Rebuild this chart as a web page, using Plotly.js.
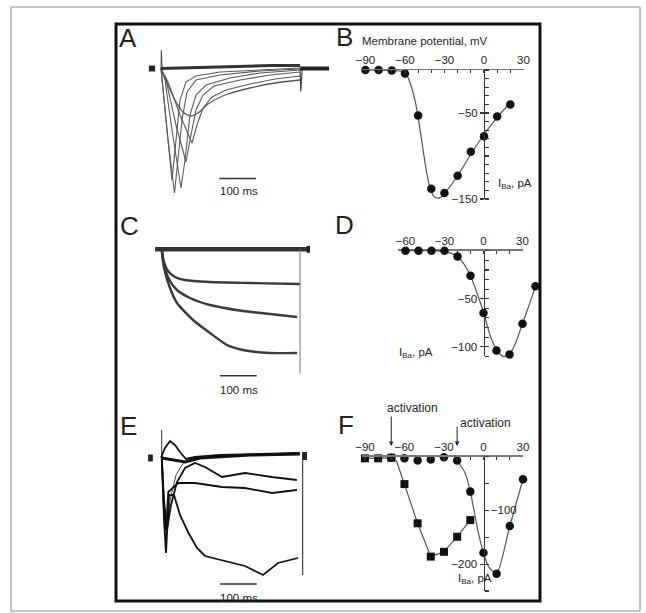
<!DOCTYPE html>
<html>
<head>
<meta charset="utf-8">
<script src="https://cdn.plot.ly/plotly-3.0.1.min.js"></script>
<style>html,body{margin:0;padding:0;background:#fff;}#chart{width:646px;height:613px;}</style>
</head>
<body>
<div id="chart"></div>
<script>
// ---------------- DATA ----------------
// Panel A: Ba2+ current traces (time in ms from pulse onset, current in arbitrary units)
const A_pre_t = [-33, -16];            const A_pre_i = [0, 0];
const A_cap_t = [0, 1, 3];             const A_cap_i = [0, 18, 0];
const A_base_t = [0, 100, 200, 300, 379]; const A_base_i = [0, 1, 2, 3, 3];
const A_f1_t = [0, 13.6, 30, 40.9, 51.8, 68.1, 95.4, 160.8, 269.8, 378.8];
const A_f1_i = [0, -51.5, -111.5, -71.5, -31.5, -13.5, -7.5, -3.5, -1.5, 0.5];
const A_f2_t = [0, 19.1, 36.8, 46.3, 57.2, 70.9, 95.4, 160.8, 269.8, 378.8];
const A_f2_i = [0, -71.5, -124.5, -91.5, -51.5, -23.5, -11.5, -6.5, -2.5, -0.5];
const A_f3_t = [0, 10.9, 30, 54.5, 65.4, 79, 95.4, 122.6, 188, 269.8, 378.8];
const A_f3_i = [0, -11.5, -61.5, -119.5, -91.5, -46.5, -26.5, -16.5, -9.5, -4.5, -1.5];
const A_f4_t = [0, 13.6, 40.9, 68.1, 79, 95.4, 114.5, 144.4, 215.3, 297, 378.8];
const A_f4_i = [0, -11.5, -56.5, -93.5, -71.5, -41.5, -26.5, -17.5, -11.5, -6.5, -3.5];
const A_f5_t = [0, 19.1, 51.8, 84.5, 98.1, 114.5, 139, 177.1, 242.5, 310.7, 378.8];
const A_f5_i = [0, -13.5, -46.5, -74.5, -56.5, -39.5, -28.5, -21.5, -15.5, -10.5, -7.5];
const A_s_t = [0, 19.1, 40.9, 62.7, 81.8, 100.8, 128.1, 174.4, 242.5, 310.7, 378.8];
const A_s_i = [0, -16.5, -33.5, -44.5, -47.5, -44.5, -35.5, -26.5, -19.5, -14.5, -11.5];
const A_tail_t = [378.8, 381, 385];    const A_tail_i = [0, -23, 0];
const A_post_t = [379, 458];           const A_post_i = [0, 0];

// Panel B: I-V relation
const B_V = [-90, -80, -70, -60, -50, -40, -30, -20, -10, 0, 10, 20];
const B_I = [0, 0, -0.5, -4, -53, -138, -143, -123, -95, -77, -54, -40];
const B_fitV = [-90, -70, -62, -58, -55, -52, -50, -47, -44, -41, -38, -35, -32, -28, -20, -10, 0, 10, 20];
const B_fitI = [0, -0.5, -2, -8, -20, -38, -55, -85, -115, -137, -147, -149, -147, -140, -123, -98, -75, -55, -38];

// Panel C: traces
const C_top_t = [-18, 404];            const C_top_i = [0, 0];
const C_endblob_t = [395, 404];        const C_endblob_i = [0, 0];
const C_t2_t = [0, 6.3, 17.2, 36.2, 63.5, 131.6, 240.6, 376.9];
const C_t2_i = [0, -12.7, -21.7, -27.7, -30.7, -32.7, -33.7, -34.7];
const C_t3_t = [0, 6.3, 22.6, 41.7, 77.1, 131.6, 221.5, 295.1, 368.9];
const C_t3_i = [0, -15.7, -31.7, -40.7, -48.7, -55.7, -61.7, -64.7, -67.7];
const C_t4_t = [0, 6.3, 22.6, 41.7, 85.3, 131.6, 177.9, 221.5, 295.1, 368.9];
const C_t4_i = [0, -18.7, -38.7, -53.7, -70.7, -83.7, -95.7, -100.7, -103.7, -103.7];
const C_end_t = [377, 377];            const C_end_i = [0, -124];

// Panel D: I-V relation
const D_V = [-60, -50, -40, -30, -20, -10, 0, 10, 20, 30, 40];
const D_I = [0, 0, 0, 0, -6, -26, -65, -104, -108, -76, -37];
const D_fitV = [-60, -40, -30, -25, -20, -15, -10, -5, 0, 5, 10, 15, 20, 25, 30, 35, 40];
const D_fitI = [0, 0, -1, -2.5, -6, -14, -26, -44, -64, -88, -103, -110, -108, -95, -76, -57, -37];

// Panel E: traces
const E_pre_t = [-37, -24];            const E_pre_i = [-2, -2];
const E_cap_t = [0, 0];                const E_cap_i = [0, 26];
const E_0_t = [0, 36, 64, 104, 241, 377];  const E_0_i = [-2, -4, -6, -2, 1, 2];
const E_1_t = [0, 9, 22.6, 36.2, 49.9, 66.2, 90.7, 158.9, 267.9, 376.9];
const E_1_i = [0, 8, 15, 11, 4, -3, -1, 1, 2, 3];
const E_2_t = [0, 6.3, 14.4, 25.3, 41.7, 63.5, 90.7, 117.9, 164.3, 226.9, 300.5, 368.6];
const E_2_i = [0, -44, -74, -49, -26, -12, -7, -11, -21, -17, -21, -24];
const E_3_t = [0, 6.3, 11.7, 18, 45.2, 90.7, 164.3, 226.9, 300.5, 368.6];
const E_3_i = [0, -54, -74, -36, -27, -27, -31, -32, -37, -34];
const E_4_t = [0, 6.3, 11.7, 19.9, 33.5, 49.9, 71.7, 96.2, 118, 158.9, 227, 276.1, 317, 371.5];
const E_4_i = [0, -64, -97, -39, -39, -59, -76, -92, -100, -104, -110, -119, -107, -102];
const E_5_t = [0, 6.3, 11.7, 22.6, 39, 60.8, 90.7, 186, 376.9];
const E_5_i = [0, -64, -84, -44, -19, -6, -1, 1, 3];
const E_end_t = [384, 384];            const E_end_i = [4, -119];
const E_post_t = [384, 396];           const E_post_i = [0, 0];

// Panel F: I-V relations (squares and circles)
const F_sqV = [-90, -80, -70, -60, -50, -40, -30, -20, -10];
const F_sqI = [-3, -3, -2, -51, -124, -186, -177, -149, -118];
const F_sqFitV = [-90, -70, -66, -60, -50, -40, -30, -20, -10];
const F_sqFitI = [-3, -2, -8, -51, -124, -186, -177, -149, -118];
const F_ciV = [-70, -60, -50, -40, -30, -20, -10, 0, 10, 20, 30];
const F_ciI = [-2, -3, -7, -5, -1, -7, -65, -179, -218, -129, -42];
const F_ciFitV = [-20, -14, -10, -4, 0, 4, 10, 20, 30];
const F_ciFitI = [-7, -30, -65, -140, -179, -205, -218, -129, -42];
const F_arrowV = [-70, -20];

// Tick labels
const xTicksB = [-90, -60, -30, 0, 30];
const yTicksB = [-50, -150];
const xTicksD = [-60, -30, 0, 30];
const yTicksD = [-50, -100];
const xTicksF = [-90, -60, -30, 0, 30];
const yTicksF_left = [-200];
const yTicksF_right = [-100];
const scaleBarMs = 100;

// ---------------- LAYOUT HELPERS ----------------
const W = 646, H = 613;
const px = v => v / W;
const py = v => 1 - v / H;
const FONT = 'Liberation Sans, Arial, sans-serif';
const TXT = '#222';

// panel F x-axis geometry (pixels) used to place the arrows through the same scale
const F_X0 = 362.3, F_X1 = 523, F_R = [-92, 30.01];
const fPix = v => F_X0 + (v - F_R[0]) * (F_X1 - F_X0) / (F_R[1] - F_R[0]);

function line(x, y, xa, ya, color, width, shape) {
  return {type: 'scatter', mode: 'lines', x: x, y: y, xaxis: xa, yaxis: ya,
    line: {color: color, width: width, shape: shape || 'linear', smoothing: 0.6},
    hoverinfo: 'skip', showlegend: false};
}
function pts(x, y, xa, ya, symbol) {
  return {type: 'scatter', mode: 'markers', x: x, y: y, xaxis: xa, yaxis: ya, cliponaxis: false,
    marker: {color: '#111', size: symbol === 'square' ? 8 : 8.5, symbol: symbol}, hoverinfo: 'skip', showlegend: false};
}

const data = [];
// Panel A
const aCol = '#5a5a5a';
data.push(line(A_pre_t, A_pre_i, 'x', 'y', '#222', 6));
data.push(line(A_cap_t, A_cap_i, 'x', 'y', '#444', 1));
[[A_f1_t, A_f1_i], [A_f2_t, A_f2_i], [A_f3_t, A_f3_i], [A_f4_t, A_f4_i], [A_f5_t, A_f5_i]].forEach(p => data.push(line(p[0], p[1], 'x', 'y', aCol, 1.1)));
data.push(line(A_s_t, A_s_i, 'x', 'y', aCol, 1.3, 'spline'));
data.push(line(A_base_t, A_base_i, 'x', 'y', '#333', 3));
data.push(line(A_tail_t, A_tail_i, 'x', 'y', '#444', 1.2));
data.push(line(A_post_t, A_post_i, 'x', 'y', '#222', 4));
data.push(line([159, 159 + scaleBarMs], [-110, -110], 'x', 'y', '#333', 1.5));

// Panel B
data.push(line(B_fitV, B_fitI, 'x2', 'y2', '#555', 1.2, 'spline'));
data.push(pts(B_V, B_I, 'x2', 'y2', 'circle'));

// Panel C
const cCol = '#3a3a3a';
data.push(line(C_top_t, C_top_i, 'x3', 'y3', '#333', 4.5));
data.push(line(C_endblob_t, C_endblob_i, 'x3', 'y3', '#222', 7));
data.push(line(C_t2_t, C_t2_i, 'x3', 'y3', cCol, 2.4, 'spline'));
data.push(line(C_t3_t, C_t3_i, 'x3', 'y3', cCol, 2.4, 'spline'));
data.push(line(C_t4_t, C_t4_i, 'x3', 'y3', cCol, 2.4, 'spline'));
data.push(line(C_end_t, C_end_i, 'x3', 'y3', '#777', 1));
data.push(line([159, 159 + scaleBarMs], [-126.4, -126.4], 'x3', 'y3', '#333', 1.5));

// Panel D
data.push({type: 'scatter', mode: 'markers', x: [0], y: [0], xaxis: 'x4', yaxis: 'y4', marker: {opacity: 0}, hoverinfo: 'skip', showlegend: false});
data.push(line(D_fitV, D_fitI, 'x7', 'y7', '#555', 1.2, 'spline'));
data.push(pts(D_V, D_I, 'x7', 'y7', 'circle'));

// Panel E
const eCol = '#111';
data.push(line(E_pre_t, E_pre_i, 'x5', 'y5', '#222', 7));
data.push(line(E_cap_t, E_cap_i, 'x5', 'y5', '#333', 1));
data.push(line(E_5_t, E_5_i, 'x5', 'y5', '#444', 1));
data.push(line(E_3_t, E_3_i, 'x5', 'y5', eCol, 1.8));
data.push(line(E_2_t, E_2_i, 'x5', 'y5', eCol, 1.8));
data.push(line(E_4_t, E_4_i, 'x5', 'y5', eCol, 1.8));
data.push(line(E_1_t, E_1_i, 'x5', 'y5', eCol, 1.8));
data.push(line(E_0_t, E_0_i, 'x5', 'y5', eCol, 3));
data.push(line(E_end_t, E_end_i, 'x5', 'y5', '#444', 1.2));
data.push(line(E_post_t, E_post_i, 'x5', 'y5', '#222', 8));
data.push(line([159, 159 + scaleBarMs], [-128, -128], 'x5', 'y5', '#333', 1.5));

// Panel F
data.push({type: 'scatter', mode: 'markers', x: [0], y: [0], xaxis: 'x6', yaxis: 'y8', marker: {opacity: 0}, hoverinfo: 'skip', showlegend: false});
data.push(line(F_sqFitV, F_sqFitI, 'x6', 'y6', '#555', 1.2));
data.push(line(F_ciFitV, F_ciFitI, 'x6', 'y6', '#555', 1.2, 'spline'));
data.push(pts(F_sqV, F_sqI, 'x6', 'y6', 'square'));
data.push(pts(F_ciV, F_ciI, 'x6', 'y6', 'circle'));

const tickFont = {family: FONT, size: 11.5, color: TXT};
const hidden = {visible: false, fixedrange: true};
function xIV(domain, range, anchor, ticks) {
  return {domain: domain, range: range, anchor: anchor, side: 'top', showline: true, linecolor: '#777', linewidth: 1.3,
    tickmode: 'array', tickvals: ticks, ticks: 'inside', ticklen: 3, tickcolor: '#333', tickwidth: 1.2,
    minor: {tickmode: 'linear', tick0: 0, dtick: 10, ticks: 'inside', ticklen: 3, tickcolor: '#333', tickwidth: 1.2},
    showgrid: false, zeroline: false, tickfont: tickFont, fixedrange: true};
}
function yIV(domain, range, pos, ticks, minorD) {
  return {domain: domain, range: range, anchor: 'free', position: pos, showline: true, linecolor: '#333', linewidth: 1.3,
    tickmode: 'array', tickvals: ticks, ticks: 'outside', ticklen: 4, tickcolor: '#333', tickwidth: 1.2,
    minor: {tickmode: 'linear', tick0: 0, dtick: minorD, ticks: 'inside', ticklen: 4, tickcolor: '#333', tickwidth: 1.2},
    showgrid: false, zeroline: false, tickfont: tickFont, fixedrange: true};
}

const layout = {
  width: W, height: 613, margin: {l: 0, r: 0, t: 0, b: 0}, paper_bgcolor: '#fff', plot_bgcolor: 'rgba(0,0,0,0)',
  showlegend: false, font: {family: FONT, color: TXT},
  xaxis: Object.assign({domain: [px(140), px(335)], range: [-57.2, 474.1], anchor: 'y'}, hidden),
  yaxis: Object.assign({domain: [py(210), py(40)], range: [-141.5, 28.5], anchor: 'x'}, hidden),
  xaxis3: Object.assign({domain: [px(140), px(335)], range: [-59.1, 472.2], anchor: 'y3'}, hidden),
  yaxis3: Object.assign({domain: [py(400), py(215)], range: [-150.7, 34.3], anchor: 'x3'}, hidden),
  xaxis5: Object.assign({domain: [px(140), px(335)], range: [-59.1, 472.2], anchor: 'y5'}, hidden),
  yaxis5: Object.assign({domain: [py(600), py(415)], range: [-144, 41], anchor: 'x5'}, hidden),
  xaxis2: xIV([px(361.5), px(523.5)], [-93, 30.01], 'y2', xTicksB),
  yaxis2: yIV([py(199), py(70)], [-150.01, 0.01], px(484), yTicksB, 10),
  xaxis4: xIV([px(397.7), px(522.5)], [-66, 30.01], 'y4', xTicksD),
  yaxis4: yIV([py(356.3), py(250.7)], [-110, 0.01], px(483.5), yTicksD, 10),
  xaxis7: Object.assign({domain: [px(397.7), px(539.4)], range: [-66, 43], anchor: 'y7'}, hidden),
  yaxis7: Object.assign({domain: [py(361.1), py(245.9)], range: [-115, 5], anchor: 'x7'}, hidden),
  xaxis6: xIV([px(F_X0), px(F_X1)], F_R, 'y6', xTicksF),
  yaxis6: yIV([py(591), py(456.7)], [-250, 0.01], px(483.5), yTicksF_left, 50),
  yaxis8: {overlaying: 'y6', side: 'right', anchor: 'free', position: px(483.5), range: [-250, 0.01],
    showline: false, tickmode: 'array', tickvals: yTicksF_right, ticks: 'outside', ticklen: 4, tickcolor: '#333',
    showgrid: false, zeroline: false, tickfont: tickFont, fixedrange: true},
  shapes: [
    {type: 'rect', xref: 'paper', yref: 'paper', x0: px(11), x1: px(640), y0: py(611), y1: py(7), line: {color: '#888', width: 1}},
    {type: 'rect', xref: 'paper', yref: 'paper', x0: px(116), x1: px(540), y0: py(601), y1: py(24), line: {color: '#111', width: 3}}
  ],
  annotations: []
};

function ann(text, x, y, size, xanchor) {
  return {text: text, x: px(x), y: py(y), xref: 'paper', yref: 'paper', showarrow: false,
    xanchor: xanchor || 'center', yanchor: 'middle', font: {family: FONT, size: size, color: TXT}};
}
const A = layout.annotations;
A.push(ann('A', 128, 38, 26));
A.push(ann('B', 345, 37, 26));
A.push(ann('C', 129, 226, 26));
A.push(ann('D', 345, 225, 26));
A.push(ann('E', 128, 426, 26));
A.push(ann('F', 346, 425, 26));
A.push(ann('Membrane potential, mV', 360, 41, 11.5, 'left'));
A.push(ann('I<sub>Ba</sub>, pA', 496, 184, 11.5, 'left'));
A.push(ann('I<sub>Ba</sub>, pA', 397, 353, 11.5, 'left'));
A.push(ann('I<sub>Ba</sub>, pA', 456, 579, 11.5, 'left'));
A.push(ann('100 ms', 238.5, 191, 11.5));
A.push(ann('100 ms', 238.5, 390, 11.5));
A.push(ann('100 ms', 238.5, 598, 11.5));
A.push(ann('activation', 412, 408, 12));
A.push(ann('activation', 485, 423, 12));
// arrows pointing at the activation thresholds (head just above the voltage axis)
F_arrowV.forEach((v, k) => {
  A.push({x: px(fPix(v)), y: py(446), xref: 'paper', yref: 'paper', text: '', showarrow: true,
    arrowhead: 2, arrowsize: 0.9, arrowwidth: 1, arrowcolor: '#222',
    ax: 0, ay: k === 0 ? -31 : -21, standoff: 0, startstandoff: 0});
});

Plotly.newPlot('chart', data, layout, {displayModeBar: false, staticPlot: true});
</script>
</body>
</html>
